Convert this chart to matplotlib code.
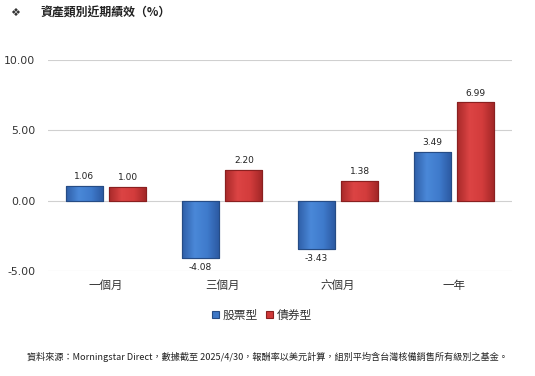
import matplotlib
matplotlib.use("Agg")
import matplotlib.pyplot as plt
import numpy as np
from matplotlib.colors import LinearSegmentedColormap

plt.rcParams['font.family'] = ['Noto Sans CJK TC', 'DejaVu Sans']

categories = ['一個月', '三個月', '六個月', '一年']
stock = [1.06, -4.08, -3.43, 3.49]
bond = [1.00, 2.20, 1.38, 6.99]
series_names = ['股票型', '債券型']
yticks = [-5, 0, 5, 10]

fig = plt.figure(figsize=(5.35, 3.76), dpi=100)
L, R = 48/535, 512/535
ax = fig.add_axes([L, 0.279, R - L, 0.561])

x = np.arange(len(categories))
w = 0.32
gap = 0.056
blue, blue_e = '#3d77c6', '#264c85'
red, red_e = '#cf3838', '#8a2020'
b1 = ax.bar(x - w/2 - gap/2, stock, w, color=blue, edgecolor=blue_e, linewidth=0.8, label=series_names[0], zorder=3)
b2 = ax.bar(x + w/2 + gap/2, bond, w, color=red, edgecolor=red_e, linewidth=0.8, label=series_names[1], zorder=3)

cm_b = LinearSegmentedColormap.from_list('b', ['#2f5fa8', '#4a88d8', '#3f7bcc', '#2b58a0'])
cm_r = LinearSegmentedColormap.from_list('r', ['#a82a2a', '#dc4444', '#d33c3c', '#a02626'])
grad = np.linspace(0, 1, 64).reshape(1, -1)
for bars, cm in ((b1, cm_b), (b2, cm_r)):
    for r in bars:
        x0 = r.get_x(); x1 = x0 + r.get_width()
        y0 = r.get_y(); y1 = y0 + r.get_height()
        im = ax.imshow(grad, cmap=cm, extent=(x0, x1, min(y0, y1), max(y0, y1)),
                       aspect='auto', zorder=3.5, interpolation='bicubic')
        im.set_clip_path(r)
        ax.bar(r.get_x() + r.get_width()/2, r.get_height(), r.get_width(), bottom=y0,
               fill=False, edgecolor=r.get_edgecolor(), linewidth=0.8, zorder=4)

for bars, vals in ((b1, stock), (b2, bond)):
    for r, v in zip(bars, vals):
        cx = r.get_x() + r.get_width()/2
        if v >= 0:
            ax.text(cx, v + 0.35, f'{v:.2f}', ha='center', va='bottom', fontsize=6.5, color='#222222', family='DejaVu Sans')
        else:
            ax.text(cx, v - 0.35, f'{v:.2f}', ha='center', va='top', fontsize=6.5, color='#222222', family='DejaVu Sans')

ax.set_ylim(-5, 10)
ax.set_xlim(-0.5, 3.5)
ax.set_yticks(yticks)
ax.set_yticklabels([f'{t:.2f}' for t in yticks], fontsize=7.8, color='#333333', family='DejaVu Sans')
ax.set_xticks(x)
ax.set_xticklabels(categories, fontsize=8.3, color='#333333')
ax.tick_params(axis='y', length=0, pad=9)
ax.tick_params(axis='x', length=0, pad=6)
ax.yaxis.grid(True, color='#d0d0d0', linewidth=0.8, zorder=0)
for s in ax.spines.values():
    s.set_visible(False)

leg = fig.legend(handles=[b1, b2], labels=series_names, loc='center', bbox_to_anchor=(0.49, 0.162),
                 ncol=2, frameon=False, fontsize=8.5, handlelength=0.6, handleheight=0.6,
                 handletextpad=0.3, columnspacing=0.7)
for t in leg.get_texts():
    t.set_color('#333333')

fig.text(0.028, 0.966, '❖', fontsize=8, color='#333333', va='center', ha='center', family=['DejaVu Sans'])
fig.text(0.075, 0.966, '資產類別近期績效（%）', fontsize=8.6, color='#222222', va='center', ha='left', fontweight='bold')
fig.text(0.5, 0.05, '資料來源：Morningstar Direct，數據截至 2025/4/30，報酬率以美元計算，組別平均含台灣核備銷售所有級別之基金。',
         fontsize=6.6, color='#222222', ha='center', va='center')

fig.savefig('out.png', dpi=100)
